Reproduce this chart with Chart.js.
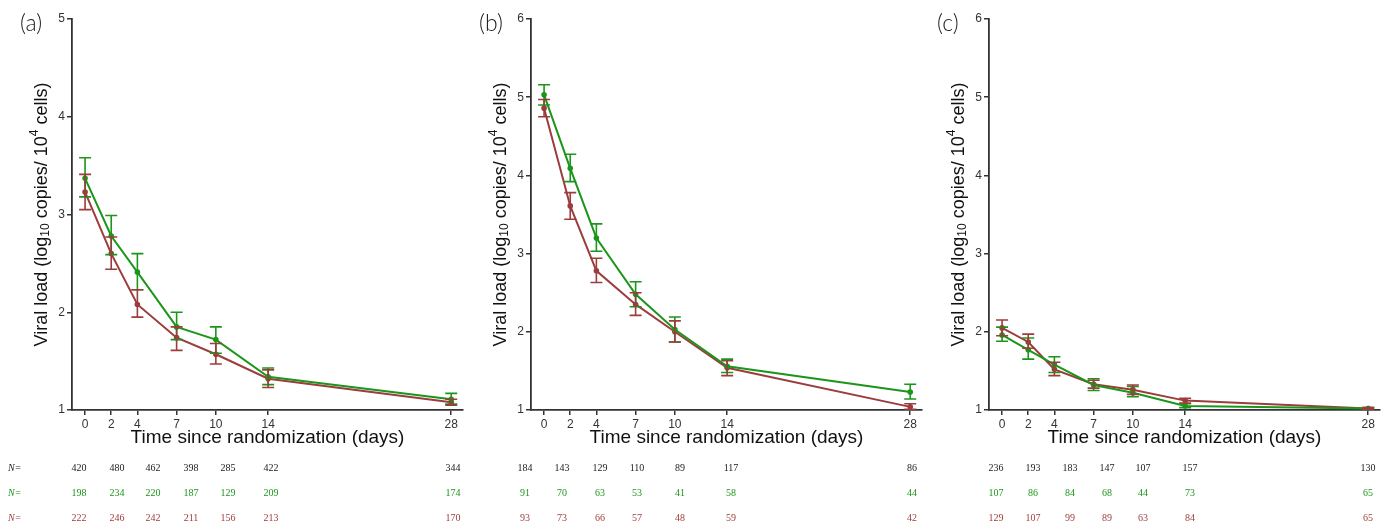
<!DOCTYPE html>
<html>
<head>
<meta charset="utf-8">
<script src="https://cdn.jsdelivr.net/npm/chart.js@4.4.1/dist/chart.umd.min.js"></script>
<style>
  html, body { margin: 0; padding: 0; background: #fff; }
  #wrap { position: relative; width: 1387px; height: 527px; overflow: hidden; }
  .panel { position: absolute; top: 0; width: 470px; height: 527px; }
</style>
</head>
<body>
<div id="wrap">
  <div class="panel" style="left:0"><canvas id="chartA" width="470" height="527"></canvas></div>
  <div class="panel" style="left:459px"><canvas id="chartB" width="470" height="527"></canvas></div>
  <div class="panel" style="left:917px"><canvas id="chartC" width="470" height="527"></canvas></div>
</div>
<script>
// time points (days since randomization)
const days = [0, 2, 4, 7, 10, 14, 28];

// panel (a)
const aGreenMean = [3.37, 2.78, 2.41, 1.85, 1.72, 1.34, 1.11];
const aGreenLow  = [3.18, 2.59, 2.23, 1.72, 1.58, 1.26, 1.06];
const aGreenHigh = [3.58, 2.99, 2.60, 2.00, 1.85, 1.43, 1.17];
const aRedMean   = [3.23, 2.60, 2.08, 1.74, 1.57, 1.32, 1.08];
const aRedLow    = [3.05, 2.44, 1.95, 1.61, 1.47, 1.23, 1.05];
const aRedHigh   = [3.41, 2.77, 2.23, 1.85, 1.68, 1.41, 1.11];
const aNTotal = [420, 480, 462, 398, 285, 422, 344];
const aNGreen = [198, 234, 220, 187, 129, 209, 174];
const aNRed   = [222, 246, 242, 211, 156, 213, 170];

// panel (b)
const bGreenMean = [5.03, 4.09, 3.20, 2.48, 2.03, 1.56, 1.23];
const bGreenLow  = [4.90, 3.92, 3.03, 2.32, 1.87, 1.48, 1.14];
const bGreenHigh = [5.16, 4.27, 3.38, 2.64, 2.19, 1.65, 1.33];
const bRedMean   = [4.86, 3.61, 2.78, 2.35, 2.00, 1.54, 1.04];
const bRedLow    = [4.75, 3.44, 2.63, 2.21, 1.87, 1.44, 1.01];
const bRedHigh   = [4.97, 3.78, 2.94, 2.50, 2.14, 1.63, 1.08];
const bNTotal = [184, 143, 129, 110, 89, 117, 86];
const bNGreen = [91, 70, 63, 53, 41, 58, 44];
const bNRed   = [93, 73, 66, 57, 48, 59, 42];

// panel (c)
const cGreenMean = [1.96, 1.77, 1.58, 1.32, 1.22, 1.05, 1.02];
const cGreenLow  = [1.88, 1.65, 1.48, 1.25, 1.17, 1.03, 1.01];
const cGreenHigh = [2.06, 1.92, 1.68, 1.40, 1.30, 1.08, 1.03];
const cRedMean   = [2.05, 1.87, 1.52, 1.33, 1.26, 1.12, 1.02];
const cRedLow    = [1.95, 1.79, 1.44, 1.28, 1.20, 1.09, 1.01];
const cRedHigh   = [2.15, 1.97, 1.61, 1.38, 1.32, 1.15, 1.03];
const cNTotal = [236, 193, 183, 147, 107, 157, 130];
const cNGreen = [107, 86, 84, 68, 44, 73, 65];
const cNRed   = [129, 107, 99, 89, 63, 84, 65];

const GREEN = '#1b961b';
const RED = '#9c3c3c';
const AXIS = '#333';

// error bars + labels + N table, drawn on top of the chart
const extrasPlugin = {
  id: 'extras',
  afterDatasetsDraw(chart) {
    const ctx = chart.ctx;
    const xs = chart.scales.x, ys = chart.scales.y;
    chart.data.datasets.forEach(ds => {
      ctx.save();
      ctx.strokeStyle = ds.borderColor;
      ctx.lineWidth = 1.6;
      ds.data.forEach((p, i) => {
        const x = xs.getPixelForValue(p.x);
        const y1 = ys.getPixelForValue(ds.low[i]);
        const y2 = ys.getPixelForValue(ds.high[i]);
        ctx.beginPath();
        ctx.moveTo(x, y1); ctx.lineTo(x, y2);
        ctx.moveTo(x - 6, y1); ctx.lineTo(x + 6, y1);
        ctx.moveTo(x - 6, y2); ctx.lineTo(x + 6, y2);
        ctx.stroke();
      });
      ctx.restore();
    });
  },
  afterDraw(chart, args, opts) {
    const ctx = chart.ctx;
    const area = chart.chartArea;
    ctx.save();

    // panel letter
    ctx.fillStyle = '#222';
    ctx.font = '300 23px Lato, "Open Sans", sans-serif';
    ctx.textAlign = 'left';
    ctx.textBaseline = 'middle';
    ctx.fillText(opts.letter, 20, 24);

    // x axis title
    ctx.font = '19px "Liberation Sans", Arial, sans-serif';
    ctx.textAlign = 'center';
    ctx.fillStyle = '#111';
    ctx.fillText('Time since randomization (days)', (area.left + area.right) / 2, 438);

    // y axis title with sub/superscript
    const big = '18px "Liberation Sans", Arial, sans-serif';
    const small = '12px "Liberation Sans", Arial, sans-serif';
    const parts = [
      { t: 'Viral load (log', f: big, dy: 0 },
      { t: '10', f: small, dy: 4 },
      { t: ' copies/ 10', f: big, dy: 0 },
      { t: '4', f: small, dy: -7 },
      { t: ' cells)', f: big, dy: 0 }
    ];
    let total = 0;
    parts.forEach(p => { ctx.font = p.f; p.w = ctx.measureText(p.t).width; total += p.w; });
    ctx.translate(42, (area.top + area.bottom) / 2);
    ctx.rotate(-Math.PI / 2);
    ctx.textAlign = 'left';
    let cx = -total / 2;
    parts.forEach(p => { ctx.font = p.f; ctx.fillText(p.t, cx, p.dy); cx += p.w; });
    ctx.setTransform(1, 0, 0, 1, 0, 0);

    // N table under the axis (its own column layout, offsets from the y axis)
    const rows = [
      { vals: opts.nTotal, color: '#222', y: 468 },
      { vals: opts.nGreen, color: GREEN, y: 493 },
      { vals: opts.nRed, color: RED, y: 518 }
    ];
    ctx.textBaseline = 'middle';
    rows.forEach(r => {
      ctx.fillStyle = r.color;
      if (opts.showN) {
        ctx.textAlign = 'left';
        ctx.font = 'italic 10px "Liberation Serif", serif';
        ctx.fillText('N', 8, r.y);
        ctx.font = '10px "Liberation Serif", serif';
        ctx.fillText('=', 8 + ctx.measureText('N').width, r.y);
      }
      ctx.textAlign = 'center';
      ctx.font = '10px "Liberation Serif", serif';
      r.vals.forEach((v, i) => ctx.fillText(String(v), area.left + opts.cols[i], r.y));
    });
    ctx.restore();
  }
};

function makeChart(id, cfg) {
  const toPts = arr => arr.map((v, i) => ({ x: days[i], y: v }));
  return new Chart(document.getElementById(id), {
    type: 'line',
    data: {
      datasets: [
        { data: toPts(cfg.greenMean), low: cfg.greenLow, high: cfg.greenHigh,
          borderColor: GREEN, backgroundColor: GREEN, borderWidth: 2,
          pointRadius: 1.8, pointHoverRadius: 1.8, tension: 0 },
        { data: toPts(cfg.redMean), low: cfg.redLow, high: cfg.redHigh,
          borderColor: RED, backgroundColor: RED, borderWidth: 2,
          pointRadius: 1.8, pointHoverRadius: 1.8, tension: 0 }
      ]
    },
    options: {
      responsive: false,
      animation: false,
      devicePixelRatio: 1,
      layout: { padding: { top: 19, right: 7, left: 0, bottom: 0 } },
      plugins: {
        legend: { display: false },
        tooltip: { enabled: false },
        extras: { letter: cfg.letter, nTotal: cfg.nTotal, nGreen: cfg.nGreen, nRed: cfg.nRed,
                  showN: cfg.showN, cols: cfg.cols }
      },
      scales: {
        x: {
          type: 'linear', min: -1, max: 28.9,
          afterBuildTicks: axis => { axis.ticks = days.map(v => ({ value: v })); },
          afterFit: axis => { axis.height = 117; },
          grid: { drawOnChartArea: false, drawTicks: true, tickLength: 5, color: AXIS, lineWidth: 1.5 },
          border: { display: true, color: AXIS, width: 1.8 },
          ticks: { color: '#333', font: { size: 12, family: '"Liberation Sans", Arial, sans-serif' }, padding: 2, maxRotation: 0 }
        },
        y: {
          min: 1, max: cfg.yMax,
          afterFit: axis => { axis.width = 72; },
          grid: { drawOnChartArea: false, drawTicks: true, tickLength: 5, color: AXIS, lineWidth: 1.5 },
          border: { display: true, color: AXIS, width: 1.8 },
          ticks: { stepSize: 1, color: '#333', font: { size: 12, family: '"Liberation Sans", Arial, sans-serif' }, padding: 2 }
        }
      }
    },
    plugins: [extrasPlugin]
  });
}

makeChart('chartA', { letter: '(a)', yMax: 5, showN: true, cols: [7, 45, 81, 119, 156, 199, 381],
  greenMean: aGreenMean, greenLow: aGreenLow, greenHigh: aGreenHigh,
  redMean: aRedMean, redLow: aRedLow, redHigh: aRedHigh,
  nTotal: aNTotal, nGreen: aNGreen, nRed: aNRed });
makeChart('chartB', { letter: '(b)', yMax: 6, showN: false, cols: [-6, 31, 69, 106, 149, 200, 381],
  greenMean: bGreenMean, greenLow: bGreenLow, greenHigh: bGreenHigh,
  redMean: bRedMean, redLow: bRedLow, redHigh: bRedHigh,
  nTotal: bNTotal, nGreen: bNGreen, nRed: bNRed });
makeChart('chartC', { letter: '(c)', yMax: 6, showN: false, cols: [7, 44, 81, 118, 154, 201, 379],
  greenMean: cGreenMean, greenLow: cGreenLow, greenHigh: cGreenHigh,
  redMean: cRedMean, redLow: cRedLow, redHigh: cRedHigh,
  nTotal: cNTotal, nGreen: cNGreen, nRed: cNRed });
</script>
</body>
</html>
